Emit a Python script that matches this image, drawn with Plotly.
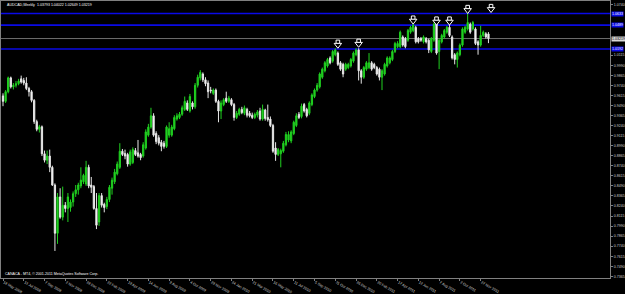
import pandas as pd
import plotly.graph_objects as go

# ---------------- data ----------------
FIRST_WEEK = "2008-05-18"
N_WEEKS = 188
WEEKS = pd.date_range(FIRST_WEEK, periods=N_WEEKS, freq="7D")

OPEN = [
    0.9609, 0.9541, 0.9661, 0.9833, 0.9721, 0.9741, 0.9761, 0.9821, 0.9801, 0.9769,
    0.9701, 0.9661, 0.9553, 0.9289, 0.9193, 0.9225, 0.8889, 0.8809, 0.8861, 0.8721,
    0.8501, 0.7901, 0.8353, 0.8101, 0.8249, 0.8209, 0.8221, 0.8289, 0.8393, 0.8441,
    0.8489, 0.8541, 0.8513, 0.8721, 0.8501, 0.8481, 0.8209, 0.8041, 0.8369, 0.8261,
    0.8233, 0.8321, 0.8461, 0.8541, 0.8641, 0.8721, 0.8921, 0.8893, 0.8881, 0.8761,
    0.8781, 0.8929, 0.8901, 0.8881, 0.8861, 0.8961, 0.9121, 0.9221, 0.9361, 0.9141,
    0.9089, 0.9033, 0.9021, 0.8981, 0.9121, 0.9121, 0.9201, 0.9321, 0.9341, 0.9381,
    0.9441, 0.9521, 0.9421, 0.9521, 0.9473, 0.9741, 0.9833, 0.9881, 0.9809, 0.9769,
    0.9681, 0.9641, 0.9681, 0.9541, 0.9421, 0.9501, 0.9581, 0.9541, 0.9561, 0.9501,
    0.9341, 0.9381, 0.9441, 0.9393, 0.9441, 0.9393, 0.9369, 0.9341, 0.9369, 0.9421,
    0.9321, 0.9433, 0.9341, 0.9321, 0.9241, 0.8961, 0.8881, 0.8889, 0.8921, 0.9001,
    0.9061, 0.9049, 0.9141, 0.9241, 0.9381, 0.9353, 0.9501, 0.9441, 0.9393, 0.9501,
    0.9601, 0.9681, 0.9721, 0.9841, 0.9921, 0.9981, 1.0081, 1.0041, 1.0121, 1.0141,
    1.0021, 1.0001, 0.9941, 0.9961, 0.9981, 1.0041, 1.0121, 1.0181, 0.9921, 0.9841,
    0.9941, 0.9961, 1.0021, 1.0001, 0.9961, 0.9941, 0.9841, 0.9881, 0.9981, 1.0021,
    1.0061, 1.0161, 1.0221, 1.0221, 1.0341, 1.0321, 1.0301, 1.0401, 1.0421, 1.0461,
    1.0321, 1.0321, 1.0281, 1.0321, 1.0301, 1.0161, 1.0301, 1.0501, 1.0161, 1.0281,
    1.0341, 1.0401, 1.0461, 1.0341, 1.0121, 1.0061, 1.0121, 1.0241, 1.0401, 1.0441,
    1.0501, 1.0441, 1.0441, 1.0281, 1.0241, 1.0361, 1.0381, 1.03793,
]
HIGH = [
    0.9641, 0.9681, 0.9849, 0.9849, 0.9769, 0.9793, 0.9821, 0.9861, 0.9833, 0.9841,
    0.9721, 0.9681, 0.9569, 0.9313, 0.9249, 0.9241, 0.8929, 0.8929, 0.8941, 0.8741,
    0.8521, 0.8401, 0.8461, 0.8481, 0.8289, 0.8401, 0.8321, 0.8421, 0.8501, 0.8529,
    0.8721, 0.8641, 0.8801, 0.8753, 0.8601, 0.8501, 0.8401, 0.8401, 0.8401, 0.8281,
    0.8353, 0.8501, 0.8593, 0.8701, 0.8793, 0.9021, 0.8949, 0.8941, 0.8901, 0.8941,
    0.8969, 0.8961, 0.9061, 0.8901, 0.9033, 0.9193, 0.9261, 0.9461, 0.9393, 0.9169,
    0.9121, 0.9061, 0.9049, 0.9241, 0.9281, 0.9249, 0.9369, 0.9393, 0.9409, 0.9489,
    0.9601, 0.9553, 0.9633, 0.9541, 0.9769, 0.9873, 0.9929, 0.9901, 0.9841, 0.9801,
    0.9721, 0.9701, 0.9701, 0.9561, 0.9553, 0.9581, 0.9661, 0.9609, 0.9581, 0.9521,
    0.9421, 0.9461, 0.9473, 0.9489, 0.9461, 0.9421, 0.9401, 0.9401, 0.9433, 0.9461,
    0.9501, 0.9449, 0.9501, 0.9353, 0.9261, 0.9033, 0.8961, 0.8953, 0.9049, 0.9161,
    0.9169, 0.9181, 0.9301, 0.9393, 0.9409, 0.9513, 0.9521, 0.9461, 0.9541, 0.9641,
    0.9701, 0.9769, 0.9901, 0.9961, 1.0041, 1.0081, 1.0101, 1.0181, 1.0201, 1.0161,
    1.0041, 1.0021, 1.0021, 1.0021, 1.0081, 1.0161, 1.0201, 1.0201, 0.9941, 0.9981,
    1.0041, 1.0141, 1.0041, 1.0021, 0.9981, 0.9961, 0.9941, 1.0021, 1.0101, 1.0101,
    1.0181, 1.0281, 1.0289, 1.0421, 1.0361, 1.0341, 1.0441, 1.0481, 1.0501, 1.0481,
    1.0341, 1.0341, 1.0361, 1.0341, 1.0321, 1.0341, 1.0521, 1.0513, 1.0321, 1.0381,
    1.0441, 1.0481, 1.0501, 1.0361, 1.0141, 1.0161, 1.0261, 1.0461, 1.0481, 1.0641,
    1.0521, 1.0541, 1.0461, 1.0301, 1.0481, 1.0421, 1.0401, 1.04022,
]
LOW = [
    0.9481, 0.9521, 0.9641, 0.9701, 0.9689, 0.9713, 0.9741, 0.9761, 0.9741, 0.9681,
    0.9601, 0.9529, 0.9261, 0.9169, 0.9153, 0.8861, 0.8781, 0.8761, 0.8661, 0.8489,
    0.7681, 0.7769, 0.8081, 0.8061, 0.8161, 0.8041, 0.8169, 0.8233, 0.8353, 0.8381,
    0.8461, 0.8513, 0.8489, 0.8461, 0.8401, 0.8193, 0.7953, 0.7993, 0.8221, 0.8161,
    0.8201, 0.8289, 0.8381, 0.8513, 0.8621, 0.8701, 0.8861, 0.8821, 0.8729, 0.8741,
    0.8761, 0.8861, 0.8841, 0.8809, 0.8841, 0.8941, 0.9101, 0.9201, 0.9101, 0.9009,
    0.8993, 0.8921, 0.8953, 0.8961, 0.9089, 0.9101, 0.9181, 0.9301, 0.9321, 0.9361,
    0.9421, 0.9421, 0.9401, 0.9441, 0.9449, 0.9713, 0.9801, 0.9781, 0.9729, 0.9581,
    0.9641, 0.9621, 0.9521, 0.9281, 0.9321, 0.9481, 0.9521, 0.9521, 0.9481, 0.9301,
    0.9321, 0.9361, 0.9381, 0.9369, 0.9341, 0.9341, 0.9321, 0.9321, 0.9341, 0.9301,
    0.9301, 0.9301, 0.9289, 0.9221, 0.8901, 0.8801, 0.8861, 0.8721, 0.8901, 0.8981,
    0.9033, 0.9021, 0.9121, 0.9221, 0.9321, 0.9329, 0.9401, 0.9341, 0.9369, 0.9481,
    0.9581, 0.9661, 0.9701, 0.9821, 0.9901, 0.9961, 1.0001, 1.0021, 1.0101, 0.9981,
    0.9921, 0.9841, 0.9921, 0.9941, 0.9961, 1.0021, 1.0101, 0.9801, 0.9761, 0.9821,
    0.9921, 0.9941, 0.9921, 0.9941, 0.9861, 0.9801, 0.9681, 0.9861, 0.9961, 1.0001,
    1.0041, 1.0141, 1.0201, 1.0201, 1.0221, 1.0201, 1.0281, 1.0381, 1.0401, 1.0261,
    1.0261, 1.0281, 1.0261, 1.0261, 1.0141, 1.0141, 1.0281, 1.0121, 0.9941, 1.0261,
    1.0321, 1.0381, 1.0341, 1.0061, 1.0001, 0.9961, 1.0101, 1.0221, 1.0381, 1.0421,
    1.0381, 1.0421, 1.0241, 1.0121, 1.0221, 1.0341, 1.0321, 1.02649,
]
CLOSE = [
    0.9541, 0.9661, 0.9833, 0.9721, 0.9741, 0.9761, 0.9793, 0.9781, 0.9769, 0.9701,
    0.9661, 0.9553, 0.9289, 0.9193, 0.9225, 0.8889, 0.8809, 0.8861, 0.8721, 0.8501,
    0.7901, 0.8353, 0.8101, 0.8249, 0.8209, 0.8353, 0.8289, 0.8393, 0.8441, 0.8501,
    0.8561, 0.8621, 0.8721, 0.8489, 0.8473, 0.8209, 0.8001, 0.8369, 0.8249, 0.8221,
    0.8321, 0.8473, 0.8561, 0.8661, 0.8761, 0.8921, 0.8881, 0.8861, 0.8761, 0.8913,
    0.8941, 0.8881, 0.8861, 0.8841, 0.9001, 0.9161, 0.9221, 0.9361, 0.9121, 0.9041,
    0.9021, 0.8981, 0.8981, 0.9221, 0.9201, 0.9221, 0.9341, 0.9361, 0.9381, 0.9461,
    0.9541, 0.9441, 0.9601, 0.9473, 0.9741, 0.9841, 0.9901, 0.9809, 0.9761, 0.9661,
    0.9673, 0.9681, 0.9541, 0.9421, 0.9521, 0.9561, 0.9541, 0.9581, 0.9501, 0.9341,
    0.9393, 0.9441, 0.9401, 0.9461, 0.9369, 0.9361, 0.9341, 0.9381, 0.9409, 0.9321,
    0.9441, 0.9329, 0.9313, 0.9241, 0.8921, 0.8881, 0.8941, 0.8929, 0.9021, 0.9129,
    0.9129, 0.9161, 0.9281, 0.9361, 0.9341, 0.9481, 0.9421, 0.9361, 0.9521, 0.9621,
    0.9681, 0.9741, 0.9881, 0.9941, 1.0021, 1.0061, 1.0021, 1.0161, 1.0181, 1.0001,
    0.9941, 0.9881, 1.0001, 1.0001, 1.0061, 1.0141, 1.0181, 0.9921, 0.9841, 0.9961,
    1.0021, 1.0021, 0.9941, 0.9961, 0.9881, 0.9841, 0.9921, 1.0001, 1.0081, 1.0081,
    1.0161, 1.0261, 1.0261, 1.0401, 1.0241, 1.0221, 1.0421, 1.0461, 1.0489, 1.0281,
    1.0281, 1.0301, 1.0341, 1.0281, 1.0181, 1.0321, 1.0501, 1.0141, 1.0301, 1.0361,
    1.0421, 1.0461, 1.0361, 1.0081, 1.0061, 1.0141, 1.0241, 1.0441, 1.0461, 1.0521,
    1.0401, 1.0521, 1.0261, 1.0241, 1.0361, 1.0401, 1.0341, 1.03219,
]

ARROW_DATES = ["2010-11-07", "2011-01-02", "2011-05-29", "2011-07-31",
               "2011-09-04", "2011-10-23", "2011-12-25"]
ARROW_PRICES = [1.0261, 1.0273, 1.0561, 1.0549, 1.0549, 1.0693, 1.0705]

BLUE_LEVELS = [1.0633, 1.0489, 1.0192]
BID = 1.03219

# price-scale labels (those hidden under the highlighted boxes are left out)
Y_TICKS = [1.0740, 1.0115, 0.9990, 0.9865,
           0.9740, 0.9615, 0.9490, 0.9365, 0.9240, 0.9115, 0.8990, 0.8865,
           0.8740, 0.8615, 0.8490, 0.8365, 0.8240, 0.8115, 0.7990, 0.7865,
           0.7740, 0.7615, 0.7490, 0.7365]

X_TICK_DATES = ["2008-05-18", "2008-07-13", "2008-09-07", "2008-11-02", "2008-12-28",
                "2009-02-22", "2009-04-19", "2009-06-14", "2009-08-09", "2009-10-04",
                "2009-11-29", "2010-01-24", "2010-03-21", "2010-05-16", "2010-07-11",
                "2010-09-05", "2010-10-31", "2010-12-26", "2011-02-20", "2011-04-17",
                "2011-06-12", "2011-08-07", "2011-10-02", "2011-11-27"]
X_TICK_TEXT = ["18 May 2008", "13 Jul 2008", "7 Sep 2008", "2 Nov 2008", "28 Dec 2008",
               "22 Feb 2009", "19 Apr 2009", "14 Jun 2009", "9 Aug 2009", "4 Oct 2009",
               "29 Nov 2009", "24 Jan 2010", "21 Mar 2010", "16 May 2010", "11 Jul 2010",
               "5 Sep 2010", "31 Oct 2010", "26 Dec 2010", "20 Feb 2011", "17 Apr 2011",
               "12 Jun 2011", "7 Aug 2011", "2 Oct 2011", "27 Nov 2011"]

TITLE = "AUDCAD,Weekly  1.03793 1.04022 1.02649 1.03219"
FOOTER = "CANACA - MT4, \u00a9 2001-2011 MetaQuotes Software Corp."

# ---------------- figure ----------------
FONT = "Liberation Sans"
TXT = "#d0d0d0"
FRAME = "#808080"
Y_RANGE = [0.73447, 1.07887]
PLOT_H = 287  # plot-area height in px
PX = (Y_RANGE[1] - Y_RANGE[0]) / PLOT_H  # price per pixel, for arrow glyph parts

fig = go.Figure()
fig.add_trace(go.Candlestick(
    x=WEEKS, open=OPEN, high=HIGH, low=LOW, close=CLOSE,
    increasing=dict(line=dict(color="#20d020", width=1), fillcolor="#20d020"),
    decreasing=dict(line=dict(color="#e6e6e6", width=1), fillcolor="#ffffff"),
    whiskerwidth=0, showlegend=False, hoverinfo="skip",
))
# hollow "down arrow" objects: a stem (square) above a head (triangle)
fig.add_trace(go.Scatter(
    x=ARROW_DATES, y=[p + 1.6 * PX for p in ARROW_PRICES], mode="markers",
    marker=dict(symbol="square", size=3.6, color="#000000",
                line=dict(color="#ffffff", width=1)),
    showlegend=False, hoverinfo="skip",
))
fig.add_trace(go.Scatter(
    x=ARROW_DATES, y=[p - 1.6 * PX for p in ARROW_PRICES], mode="markers",
    marker=dict(symbol="triangle-down", size=6.5, color="#000000",
                line=dict(color="#ffffff", width=1)),
    showlegend=False, hoverinfo="skip",
))

shapes = []
for lv in BLUE_LEVELS:
    shapes.append(dict(type="line", xref="paper", x0=0, x1=1, yref="y", y0=lv, y1=lv,
                       line=dict(color="#0a0ae6", width=1.6), layer="below"))
shapes.append(dict(type="line", xref="paper", x0=0, x1=1, yref="y", y0=BID, y1=BID,
                   line=dict(color="#6e6e6e", width=1), layer="below"))

annotations = [
    dict(text=TITLE, xref="paper", yref="paper", x=0.006, y=0.986, xanchor="left",
         yanchor="middle", showarrow=False, font=dict(family=FONT, size=3.6, color="#ffffff")),
    dict(text=FOOTER, xref="paper", yref="paper", x=0.004, y=0.014, xanchor="left",
         yanchor="middle", showarrow=False, font=dict(family=FONT, size=3.6, color="#ffffff")),
]
for lv in BLUE_LEVELS:
    annotations.append(dict(text=f"{lv:.4f}", xref="paper", x=1, xanchor="left", xshift=1,
                            yref="y", y=lv, yanchor="middle", showarrow=False,
                            bgcolor="#0a0ae6", borderpad=0,
                            font=dict(family=FONT, size=3.6, color="#ffffff")))
annotations.append(dict(text=f"{BID:.5f}", xref="paper", x=1, xanchor="left", xshift=1,
                        yref="y", y=BID, yanchor="middle", showarrow=False,
                        bgcolor="#d8d8d8", borderpad=0,
                        font=dict(family=FONT, size=3.6, color="#000000")))

fig.update_layout(
    width=625, height=294,
    margin=dict(l=0, r=13, t=1, b=6),
    paper_bgcolor="#000000", plot_bgcolor="#000000",
    shapes=shapes, annotations=annotations,
    xaxis=dict(
        type="date", range=["2008-05-12 14:00", "2012-11-09 19:00"],
        rangeslider=dict(visible=False), showgrid=False, zeroline=False,
        showline=True, linecolor=FRAME, linewidth=1, mirror=True,
        tickvals=X_TICK_DATES, ticktext=X_TICK_TEXT,
        ticks="outside", ticklen=2, tickcolor=FRAME,
        ticklabelposition="outside right",
        tickfont=dict(family=FONT, size=3.6, color=TXT),
    ),
    yaxis=dict(
        side="right", range=Y_RANGE, showgrid=False, zeroline=False,
        showline=True, linecolor=FRAME, linewidth=1, mirror=True,
        tickvals=Y_TICKS, ticktext=[f"{v:.4f}" for v in Y_TICKS],
        ticks="outside", ticklen=2, tickcolor=FRAME,
        tickfont=dict(family=FONT, size=3.6, color=TXT),
    ),
)

fig.write_html("out.html")
